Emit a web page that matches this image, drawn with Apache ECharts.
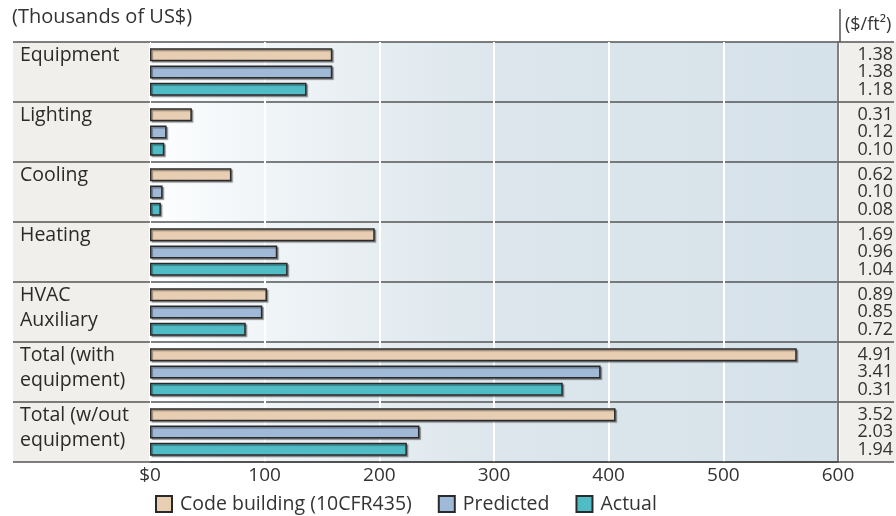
<!DOCTYPE html>
<html>
<head>
<meta charset="utf-8">
<script src="https://cdn.jsdelivr.net/npm/echarts@6/dist/echarts.min.js"></script>
<style>
html,body{margin:0;padding:0;background:#fff;}
#c{width:896px;height:516px;}
</style>
</head>
<body>
<div id="c"></div>
<script>
// ---- data ----
const categories = ['Equipment', 'Lighting', 'Cooling', 'Heating', 'HVAC\nAuxiliary', 'Total (with\nequipment)', 'Total (w/out\nequipment)'];
const seriesNames = ['Code building (10CFR435)', 'Predicted', 'Actual'];
const codeBuilding = [159, 36.5, 71, 196, 102, 564, 406];
const predicted = [159, 14.5, 11, 111, 98, 393, 235];
const actual = [136.5, 12.5, 9.5, 120, 83.5, 360, 224];
const codePerSqft = ['1.38', '0.31', '0.62', '1.69', '0.89', '4.91', '3.52'];
const predictedPerSqft = ['1.38', '0.12', '0.10', '0.96', '0.85', '3.41', '2.03'];
const actualPerSqft = ['1.18', '0.10', '0.08', '1.04', '0.72', '0.31', '1.94'];
const xTicks = [0, 100, 200, 300, 400, 500, 600];

const FONT = '"Open Sans", "Noto Sans", sans-serif';
const colors = ['#e8ceb2', '#a0b9d6', '#4fbcc6'];

const chart = echarts.init(document.getElementById('c'), null, {renderer: 'canvas'});

function barSeries(name, data, color) {
  return {
    name: name,
    type: 'bar',
    data: data,
    barWidth: 13,
    barGap: '32%',
    itemStyle: {
      color: color,
      borderColor: '#2a2a2a',
      borderWidth: 1.5,
      shadowColor: 'rgba(0,0,0,0.35)',
      shadowOffsetX: 1.5,
      shadowOffsetY: 1.5,
      shadowBlur: 1
    },
    emphasis: {disabled: true},
    animation: false
  };
}

const option = {
  animation: false,
  textStyle: {fontFamily: FONT},
  grid: {
    left: 150, right: 56, top: 42, bottom: 54,
    show: true,
    borderWidth: 0,
    backgroundColor: new echarts.graphic.LinearGradient(0, 0, 1, 0, [
      {offset: 0, color: '#fdfeff'},
      {offset: 0.2, color: '#eef3f6'},
      {offset: 0.5, color: '#dce6ec'},
      {offset: 1, color: '#d6e2ea'}
    ])
  },
  legend: {
    top: 489,
    left: 150,
    icon: 'rect',
    itemWidth: 16,
    itemHeight: 16,
    itemGap: 26,
    textStyle: {fontFamily: FONT, fontSize: 19.5, color: '#333', padding: [0, 0, 0, 3]},
    data: seriesNames,
    selectedMode: false
  },
  xAxis: {
    type: 'value',
    min: 0, max: 600, interval: 100,
    axisLine: {show: true, lineStyle: {color: '#444', width: 1.5}},
    axisTick: {show: false},
    splitLine: {show: true, lineStyle: {color: '#ffffff', width: 2}},
    axisLabel: {
      fontFamily: FONT, fontSize: 19, color: '#333', margin: 4,
      formatter: function (v) { return xTicks.indexOf(v) === 0 ? '$' + v : String(v); }
    }
  },
  yAxis: [
    {
      type: 'category',
      data: categories,
      inverse: true,
      axisLine: {show: false},
      axisTick: {show: true, length: 137, lineStyle: {color: '#555', width: 1.5}},
      splitLine: {show: true, lineStyle: {color: '#555', width: 1.5}},
      axisLabel: {
        interval: 0,
        showMinLabel: true,
        showMaxLabel: true,
        hideOverlap: false,
        align: 'left',
        margin: 130,
        fontFamily: FONT,
        fontSize: 19.5,
        color: '#2a2a2a',
        lineHeight: 25,
        rich: {s: {fontSize: 2, lineHeight: 8}},
        formatter: function (v) {
          const lines = v.split('\n');
          while (lines.length < 2) lines.push(' ');
          lines.push('{s| }');
          return lines.join('\n');
        }
      }
    },
    {
      type: 'category',
      data: categories,
      inverse: true,
      position: 'right',
      axisLine: {show: true, lineStyle: {color: '#555', width: 1.5}},
      axisTick: {show: true, length: 56, lineStyle: {color: '#555', width: 1.5}},
      axisLabel: {
        interval: 0,
        showMinLabel: true,
        showMaxLabel: true,
        hideOverlap: false,
        align: 'right',
        margin: 55,
        fontFamily: FONT,
        fontSize: 18,
        color: '#333',
        lineHeight: 17.5,
        formatter: function (v, i) {
          return [codePerSqft[i], predictedPerSqft[i], actualPerSqft[i]].join('\n');
        }
      }
    }
  ],
  graphic: [
    {type: 'rect', z: -10, shape: {x: 13, y: 42, width: 137, height: 420}, style: {fill: '#f0efeb'}},
    {type: 'rect', z: -10, shape: {x: 840, y: 42, width: 56, height: 420}, style: {fill: '#f0efeb'}},
    {type: 'line', shape: {x1: 840, y1: 9, x2: 840, y2: 42}, style: {stroke: '#555', lineWidth: 1.5}},
    {type: 'text', left: 12, top: 7, style: {text: '(Thousands of US$)', font: '20px ' + FONT, fill: '#333'}},
    {type: 'text', left: 845, top: 16, style: {text: '($/ft²)', font: '18px ' + FONT, fill: '#333'}}
  ],
  series: [
    barSeries(seriesNames[0], codeBuilding, colors[0]),
    barSeries(seriesNames[1], predicted, colors[1]),
    barSeries(seriesNames[2], actual, colors[2])
  ]
};
chart.setOption(option);
</script>
</body>
</html>
